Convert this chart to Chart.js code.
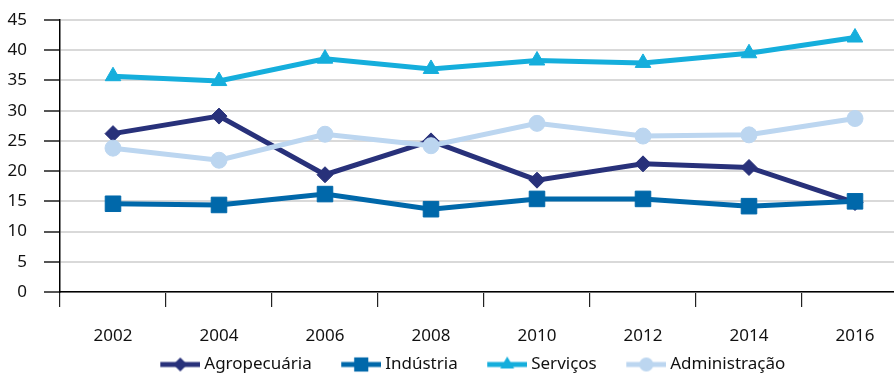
<!DOCTYPE html>
<html>
<head>
<meta charset="utf-8">
<script src="https://cdn.jsdelivr.net/npm/chart.js@4/dist/chart.umd.min.js"></script>
<style>
  html, body { margin: 0; padding: 0; background: #fff; overflow: hidden; }
  #wrap { width: 920px; height: 374px; position: relative; }
</style>
</head>
<body>
<div id="wrap"><canvas id="myChart"></canvas></div>
<script>
// dados
const anos = ['2002', '2004', '2006', '2008', '2010', '2012', '2014', '2016'];
const agropecuaria = [26.2, 29.1, 19.4, 25.0, 18.5, 21.2, 20.6, 14.8];
const industria = [14.6, 14.4, 16.2, 13.7, 15.4, 15.4, 14.2, 15.0];
const servicos = [35.7, 34.9, 38.6, 36.9, 38.3, 37.9, 39.5, 42.1];
const administracao = [23.8, 21.8, 26.1, 24.2, 27.9, 25.8, 26.0, 28.7];
const yTicks = [0, 5, 10, 15, 20, 25, 30, 35, 40, 45];

const fonte = '"Noto Sans", "Open Sans", sans-serif';
const margem = 30; // espaço transparente antes de cada icone da legenda

// icone da legenda: linha com o marcador no meio
function icone(cor, estilo, r) {
  const c = document.createElement('canvas');
  c.width = 40 + margem;
  c.height = 20;
  const ctx = c.getContext('2d');
  ctx.strokeStyle = cor;
  ctx.fillStyle = cor;
  ctx.lineWidth = 5;
  ctx.beginPath();
  ctx.moveTo(margem, 10);
  ctx.lineTo(margem + 40, 10);
  ctx.stroke();
  ctx.beginPath();
  const x = margem + 20, y = 10;
  if (estilo == 'rectRot') {
    ctx.moveTo(x - r, y); ctx.lineTo(x, y - r); ctx.lineTo(x + r, y); ctx.lineTo(x, y + r);
  } else if (estilo == 'rect') {
    const s = r * Math.SQRT1_2;
    ctx.rect(x - s, y - s, 2 * s, 2 * s);
  } else if (estilo == 'triangle') {
    ctx.moveTo(x, y - r);
    ctx.lineTo(x + r * Math.sin(Math.PI * 2 / 3), y - r * Math.cos(Math.PI * 2 / 3));
    ctx.lineTo(x - r * Math.sin(Math.PI * 2 / 3), y - r * Math.cos(Math.PI * 2 / 3));
  } else {
    ctx.arc(x, y, r, 0, Math.PI * 2);
  }
  ctx.closePath();
  ctx.fill();
  return c;
}

function serie(nome, valores, cor, estilo, r, ordem) {
  return {
    label: nome,
    data: valores,
    borderColor: cor,
    backgroundColor: cor,
    borderWidth: 5,
    pointStyle: estilo,
    pointRadius: r,
    pointBorderWidth: 1,
    pointBackgroundColor: cor,
    pointBorderColor: cor,
    tension: 0,
    order: ordem,
    icon: icone(cor, estilo, r - 1)
  };
}

const datasets = [
  serie('Agropecuária', agropecuaria, '#28317a', 'rectRot', 8, 4),
  serie('Indústria', industria, '#0068aa', 'rect', 11, 3),
  serie('Serviços', servicos, '#15aedc', 'triangle', 9, 2),
  serie('Administração', administracao, '#bcd6f0', 'circle', 8, 1)
];

const ctx = document.getElementById('myChart').getContext('2d');
const myChart = new Chart(ctx, {
  type: 'line',
  data: { labels: anos, datasets: datasets },
  options: {
    responsive: true,
    maintainAspectRatio: false,
    animation: false,
    layout: { padding: { top: 20, left: 0, right: 0, bottom: 0 } },
    plugins: {
      tooltip: { enabled: false },
      legend: {
        position: 'bottom',
        maxHeight: 22,
        labels: {
          font: { family: fonte, size: 17 },
          color: '#111',
          padding: 4,
          usePointStyle: true,
          pointStyleWidth: 40 + margem - 9,
          generateLabels: (chart) => chart.data.datasets.map((ds, i) => ({
            text: ds.label,
            pointStyle: ds.icon,
            fillStyle: ds.borderColor,
            strokeStyle: ds.borderColor,
            lineWidth: 0,
            datasetIndex: i,
            hidden: false,
            fontColor: '#111'
          }))
        }
      }
    },
    scales: {
      x: {
        offset: true,
        border: { color: '#000', width: 1.5 },
        grid: { offset: true, drawOnChartArea: false, drawTicks: true, tickLength: 15, color: '#222', lineWidth: 1.2 },
        ticks: { font: { family: fonte, size: 17 }, color: '#111', padding: 19, maxRotation: 0 },
        afterFit: (s) => { s.height = 60; }
      },
      y: {
        min: 0,
        max: 45,
        border: { color: '#000', width: 1.5 },
        grid: { color: '#d9d9d9', lineWidth: 2, tickColor: '#555', tickLength: 16 },
        afterBuildTicks: (s) => { s.ticks = yTicks.map(v => ({ value: v })); },
        ticks: { font: { family: fonte, size: 17 }, color: '#111', padding: 17 },
        afterFit: (s) => { s.width = 60; s.paddingTop = 0; s.paddingBottom = 0; }
      }
    }
  }
});
</script>
</body>
</html>
